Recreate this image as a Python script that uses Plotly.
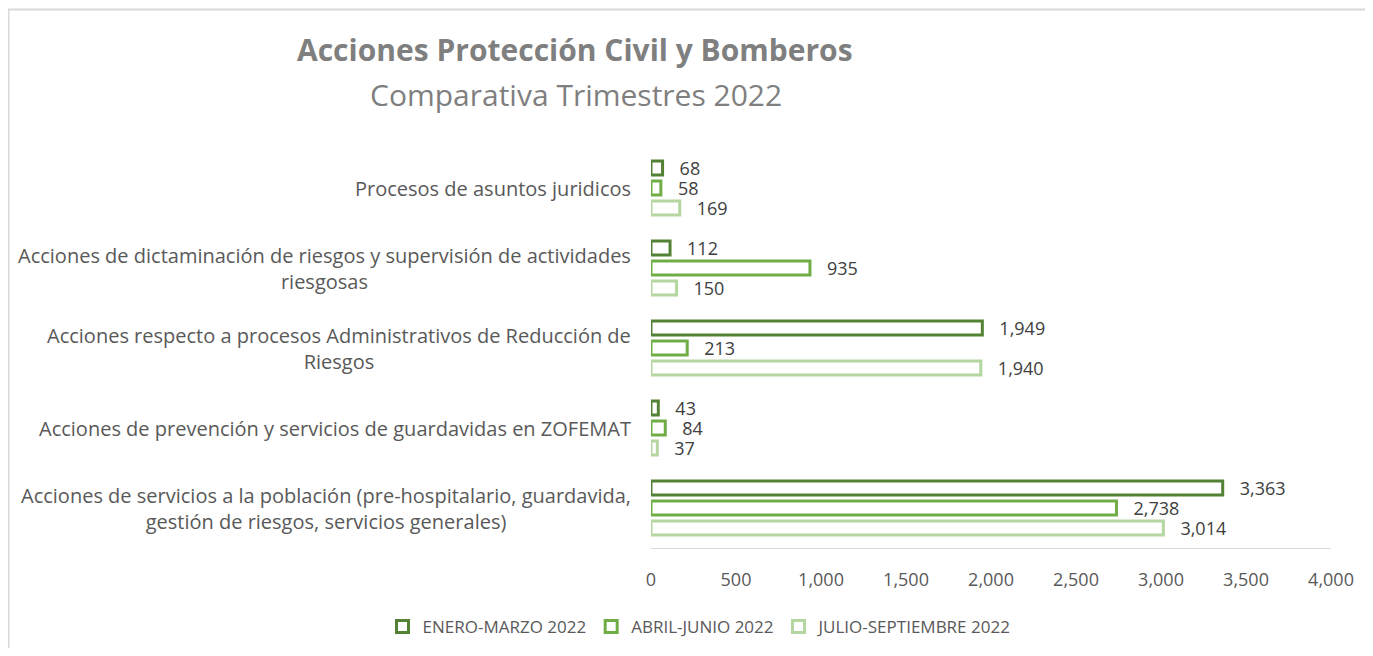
import plotly.graph_objects as go

categories = [
    "Procesos de asuntos juridicos",
    "Acciones de dictaminación de riesgos y supervisión de actividades<br>riesgosas",
    "Acciones respecto a procesos Administrativos de Reducción de<br>Riesgos",
    "Acciones de prevención y servicios de guardavidas en ZOFEMAT",
    "Acciones de servicios a la población (pre-hospitalario, guardavida,<br>gestión de riesgos, servicios generales)",
]
series_names = ["ENERO-MARZO 2022", "ABRIL-JUNIO 2022", "JULIO-SEPTIEMBRE 2022"]
enero_marzo = [68, 112, 1949, 43, 3363]
abril_junio = [58, 935, 213, 84, 2738]
julio_sept = [169, 150, 1940, 37, 3014]
series_values = [enero_marzo, abril_junio, julio_sept]
colors = ["#548235", "#70ad47", "#b4d6a0"]
x_ticks = [0, 500, 1000, 1500, 2000, 2500, 3000, 3500, 4000]

# browser body margin shifts the figure by 8px; positions below are in viewport px
OFF = 8
W, H = 1365, 640
ML, MT = 651 - OFF, 148 - OFF
PLOT_R, PLOT_B = 1331 - OFF, 548 - OFF
MR, MB = W - PLOT_R, H - PLOT_B
PW, PH = PLOT_R - ML, PLOT_B - MT


def px_x(p):
    return (p - OFF - ML) / PW


def px_y(p):
    return (PLOT_B - (p - OFF)) / PH


FONT = "Open Sans"
GREY = "#595959"

fig = go.Figure()
for name, vals, col in zip(series_names, series_values, colors):
    fig.add_trace(go.Bar(
        y=categories, x=vals, name=name, orientation="h",
        marker=dict(color="white", line=dict(color=col, width=3)),
        text=[f"{v:,}" for v in vals],
        texttemplate="   %{text}",
        textposition="outside",
        constraintext="none",
        textfont=dict(family=FONT, size=18, color="#404040"),
        cliponaxis=False,
        hoverinfo="x+name",
    ))

annotations = []
for cat in categories:
    annotations.append(dict(
        x=px_x(633), xref="paper", y=cat, yref="y",
        text=cat, showarrow=False, xanchor="right", yanchor="middle",
        align="center", font=dict(family=FONT, size=20, color=GREY),
    ))

annotations += [
    dict(x=px_x(575), xref="paper", y=px_y(50), yref="paper",
         text="<b>Acciones Protección Civil y Bomberos</b>", showarrow=False,
         xanchor="center", yanchor="middle",
         font=dict(family=FONT, size=30, color="#7f7f7f")),
    dict(x=px_x(576), xref="paper", y=px_y(95), yref="paper",
         text="Comparativa Trimestres 2022", showarrow=False,
         xanchor="center", yanchor="middle",
         font=dict(family=FONT, size=30, color="#7f7f7f")),
]

fig.update_layout(
    width=W, height=H,
    margin=dict(l=ML, r=MR, t=MT, b=MB, autoexpand=False),
    paper_bgcolor="white", plot_bgcolor="white",
    barmode="group", bargap=0.25, bargroupgap=0.3,
    font=dict(family=FONT, color=GREY),
    xaxis=dict(
        range=[0, 4000], tickvals=x_ticks, tickformat=",",
        showgrid=False, zeroline=False,
        showline=True, linecolor="#d9d9d9", linewidth=1,
        ticks="", ticklabelstandoff=15,
        tickfont=dict(family=FONT, size=18, color=GREY),
        fixedrange=True,
    ),
    yaxis=dict(
        autorange="reversed", showticklabels=False, showgrid=False,
        zeroline=False, showline=False, ticks="",
    ),
    showlegend=True,
    legend=dict(
        orientation="h", x=px_x(700), xanchor="center",
        y=px_y(627), yanchor="middle",
        font=dict(family=FONT, size=17, color=GREY),
        traceorder="normal",
    ),
    annotations=annotations,
    shapes=[dict(type="rect", xref="paper", yref="paper",
                 x0=px_x(8.5), x1=px_x(1400), y0=px_y(9.5), y1=px_y(700),
                 line=dict(color="#d9d9d9", width=2), layer="below")],
)

fig.write_html("out.html")
